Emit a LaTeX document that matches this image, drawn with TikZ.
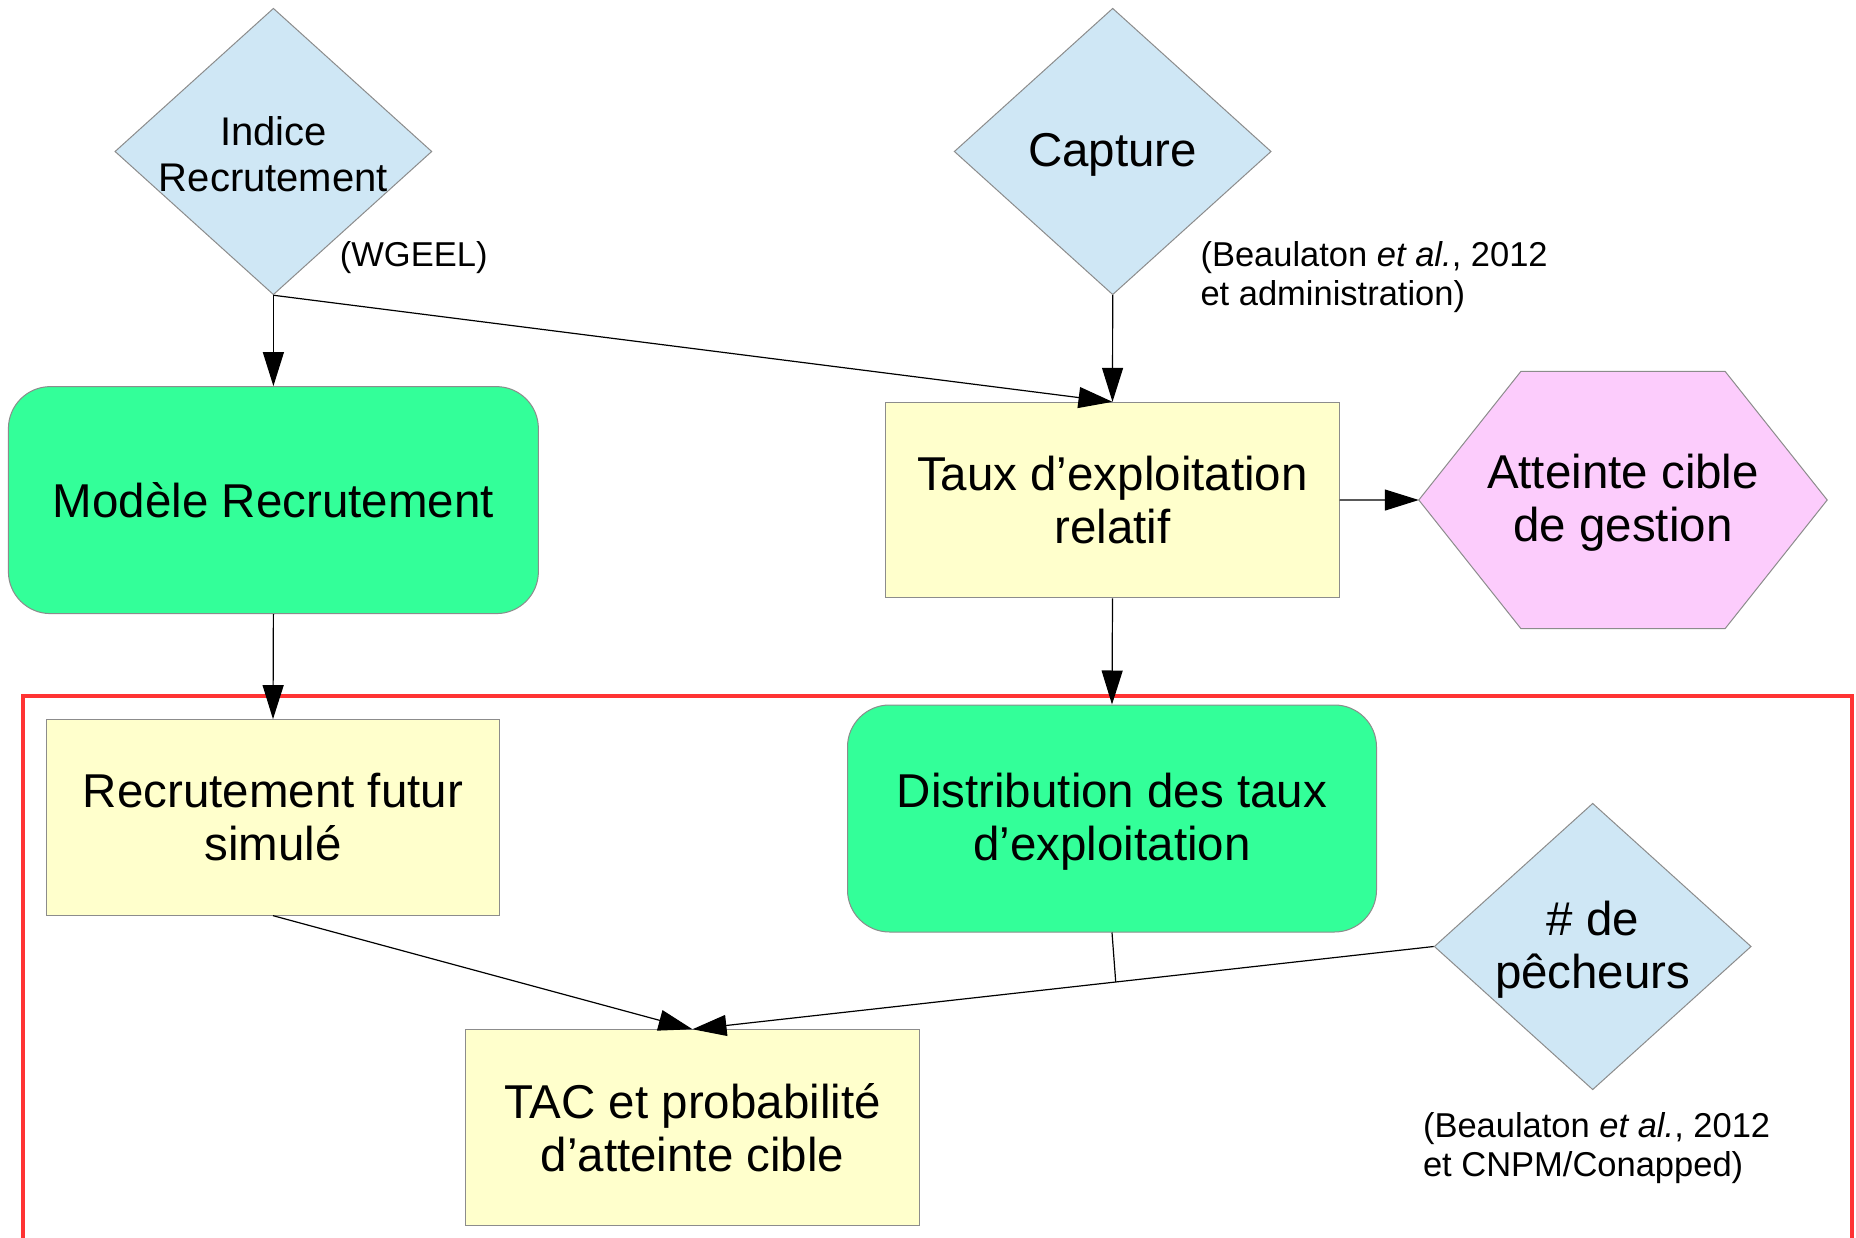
\documentclass[tikz,border=0pt]{standalone}
\usepackage{fontspec}
\setmainfont{Liberation Sans}
\usetikzlibrary{shapes.geometric,arrows.meta,calc,backgrounds}
\definecolor{diablue}{HTML}{CFE7F5}
\definecolor{modgreen}{HTML}{33FF99}
\definecolor{boxyellow}{HTML}{FFFFCC}
\definecolor{hexpink}{HTML}{FCCCFC}
\definecolor{framered}{HTML}{FF3333}
\definecolor{edgegray}{HTML}{8C8C8C}
\begin{document}
\begin{tikzpicture}[x=1pt,y=-1pt,
  base/.style={draw=edgegray,line width=1pt,align=center,inner sep=0pt},
  bigtext/.style={font=\fontsize{47.5}{53}\selectfont},
  dia/.style={base,diamond,fill=diablue,minimum width=317pt,minimum height=286.5pt},
  dlabel/.style={align=center,inner sep=0pt,yshift=-3pt},
  model/.style={base,bigtext,rectangle,rounded corners=42pt,fill=modgreen},
  datab/.style={base,bigtext,rectangle,fill=boxyellow,minimum width=453.4pt,minimum height=195.5pt},
  note/.style={font=\fontsize{34.5}{39}\selectfont,align=left,inner sep=0pt,anchor=west},
  conn/.style={line width=1.2pt,-{Triangle[length=34pt,width=21pt]}},
  plain/.style={line width=1.2pt},
]
\useasboundingbox (0,0) rectangle (1856,1238);

\begin{scope}[on background layer]
  \fill[white] (0,0) rectangle (1856,1238);
\end{scope}

\begin{scope}
  \clip (0,0) rectangle (1856,1238);
  \draw[framered,line width=3.8pt] (23.3,696.3) rectangle (1852,1270);
\end{scope}

% nodes
\node[dia,label={[dlabel,font=\fontsize{40}{46}\selectfont]center:Indice\\Recrutement}] (indice) at (273.4,151.5) {};
\node[dia,label={[dlabel,bigtext]center:Capture}] (capture) at (1112.7,151.5) {};
\node[note] (wgeel) at (339.7,258) {(WGEEL)};
\node[note] (src1) at (1200.3,277.5) {(Beaulaton \textit{et al.}, 2012\\et administration)};

\node[model,minimum width=530pt,minimum height=227pt] (modele) at (273.4,500.1) {Modèle Recrutement};
\node[datab] (taux) at (1112.5,500.1) {Taux d’exploitation\\relatif};
\node[inner sep=0pt,minimum width=408pt,minimum height=256.6pt,
      label={[dlabel,bigtext]center:Atteinte cible\\ de gestion}] (atteinte) at (1623,500) {};
\begin{scope}[on background layer]
  \draw[edgegray,line width=1pt,fill=hexpink]
    (atteinte.west) -- ($(atteinte.north west)+(102,0)$) -- ($(atteinte.north east)-(102,0)$)
    -- (atteinte.east) -- ($(atteinte.south east)-(102,0)$) -- ($(atteinte.south west)+(102,0)$) -- cycle;
\end{scope}

\node[datab] (futur) at (273,817.4) {Recrutement futur\\simulé};
\node[model,minimum width=529pt,minimum height=227pt] (distrib) at (1112,818.5) {\rule{0pt}{41pt}Distribution des taux\\d’exploitation};
\node[dia,label={[dlabel,bigtext]center:\# de\\pêcheurs}] (pech) at (1592.7,946.5) {};
\node[datab] (tac) at (692.5,1127.5) {TAC et probabilité\\d’atteinte cible};
\node[note] (src2) at (1422.8,1148) {(Beaulaton \textit{et al.}, 2012\\et CNPM/Conapped)};

% connectors
\draw[conn] (indice.south) -- (modele.north);
\draw[conn] (indice.south) -- (taux.north);
\draw[conn] (capture.south) -- (taux.north);
\draw[conn] (taux.east) -- (atteinte.west);
\draw[conn] (modele.south) -- (futur.north);
\draw[conn] (taux.south) -- (distrib.north);
\draw[conn] (futur.south) -- (tac.north);
\draw[conn] (pech.west) -- (tac.north);
\coordinate (j) at ($(pech.west)!0.429!(tac.north)$);
\draw[plain] (distrib.south) -- (j);
\end{tikzpicture}
\end{document}
